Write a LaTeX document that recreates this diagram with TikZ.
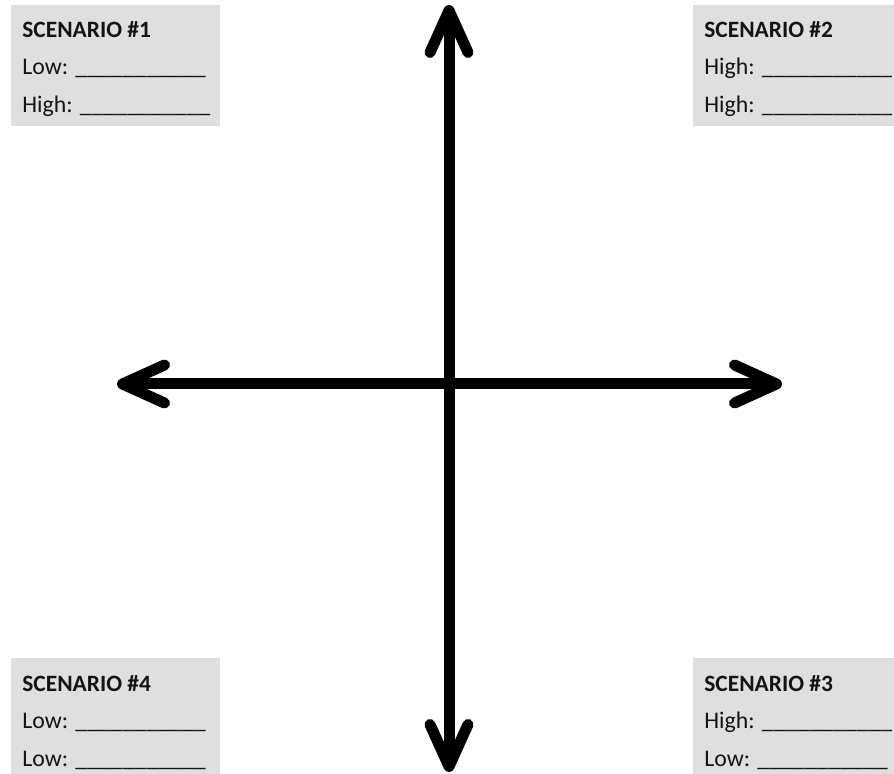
\documentclass[tikz,border=0pt]{standalone}
\usepackage{fontspec}
\setmainfont{Carlito}
\usepackage{xcolor}
\usetikzlibrary{arrows.meta}
\definecolor{scenGray}{RGB}{223,223,223}
\definecolor{scenText}{RGB}{20,20,20}

\begin{document}
\begin{tikzpicture}[x=0.5pt,y=-0.5pt,
    scenbox/.style={fill=scenGray, anchor=north west, inner sep=0pt,
        minimum width=104.5pt, minimum height=60.5pt},
    scentitle/.style={anchor=base west, inner sep=0pt, text=scenText,
        font=\fontsize{11.7pt}{14pt}\selectfont\bfseries},
    scenline/.style={anchor=base west, inner sep=0pt, text=scenText,
        font=\fontsize{11.9pt}{14pt}\selectfont},
    axis/.style={line width=5.5pt,
        arrows={Straight Barb[round,length=21pt,width=19pt]-Straight Barb[round,length=21pt,width=19pt]}}]
    \useasboundingbox (0,0) rectangle (894,774);

    % scenario boxes
    \node[scenbox] (box1) at (11,5) {};
    \node[scentitle] (title1) at (22,38) {SCENARIO \#1};
    \node[scenline] (low1) at (22,75) {Low: \_\_\_\_\_\_\_\_\_\_\_};
    \node[scenline] (high1) at (22,113) {High: \_\_\_\_\_\_\_\_\_\_\_};

    \node[scenbox] (box2) at (693,5) {};
    \node[scentitle] (title2) at (704,38) {SCENARIO \#2};
    \node[scenline] (high2a) at (704,75) {High: \_\_\_\_\_\_\_\_\_\_\_};
    \node[scenline] (high2b) at (704,113) {High: \_\_\_\_\_\_\_\_\_\_\_};

    \node[scenbox] (box3) at (693,658) {};
    \node[scentitle] (title3) at (704,691) {SCENARIO \#3};
    \node[scenline] (high3) at (704,728) {High: \_\_\_\_\_\_\_\_\_\_\_};
    \node[scenline] (low3) at (704,766) {Low: \_\_\_\_\_\_\_\_\_\_\_};

    \node[scenbox] (box4) at (11,658) {};
    \node[scentitle] (title4) at (22,691) {SCENARIO \#4};
    \node[scenline] (low4a) at (22,728) {Low: \_\_\_\_\_\_\_\_\_\_\_};
    \node[scenline] (low4b) at (22,766) {Low: \_\_\_\_\_\_\_\_\_\_\_};

    % axes
    \coordinate (top) at (449,5);
    \coordinate (bottom) at (449,772);
    \coordinate (left) at (117,384);
    \coordinate (right) at (782,384);
    \draw[axis] (bottom) -- (top);
    \draw[axis] (left) -- (right);
\end{tikzpicture}
\end{document}
